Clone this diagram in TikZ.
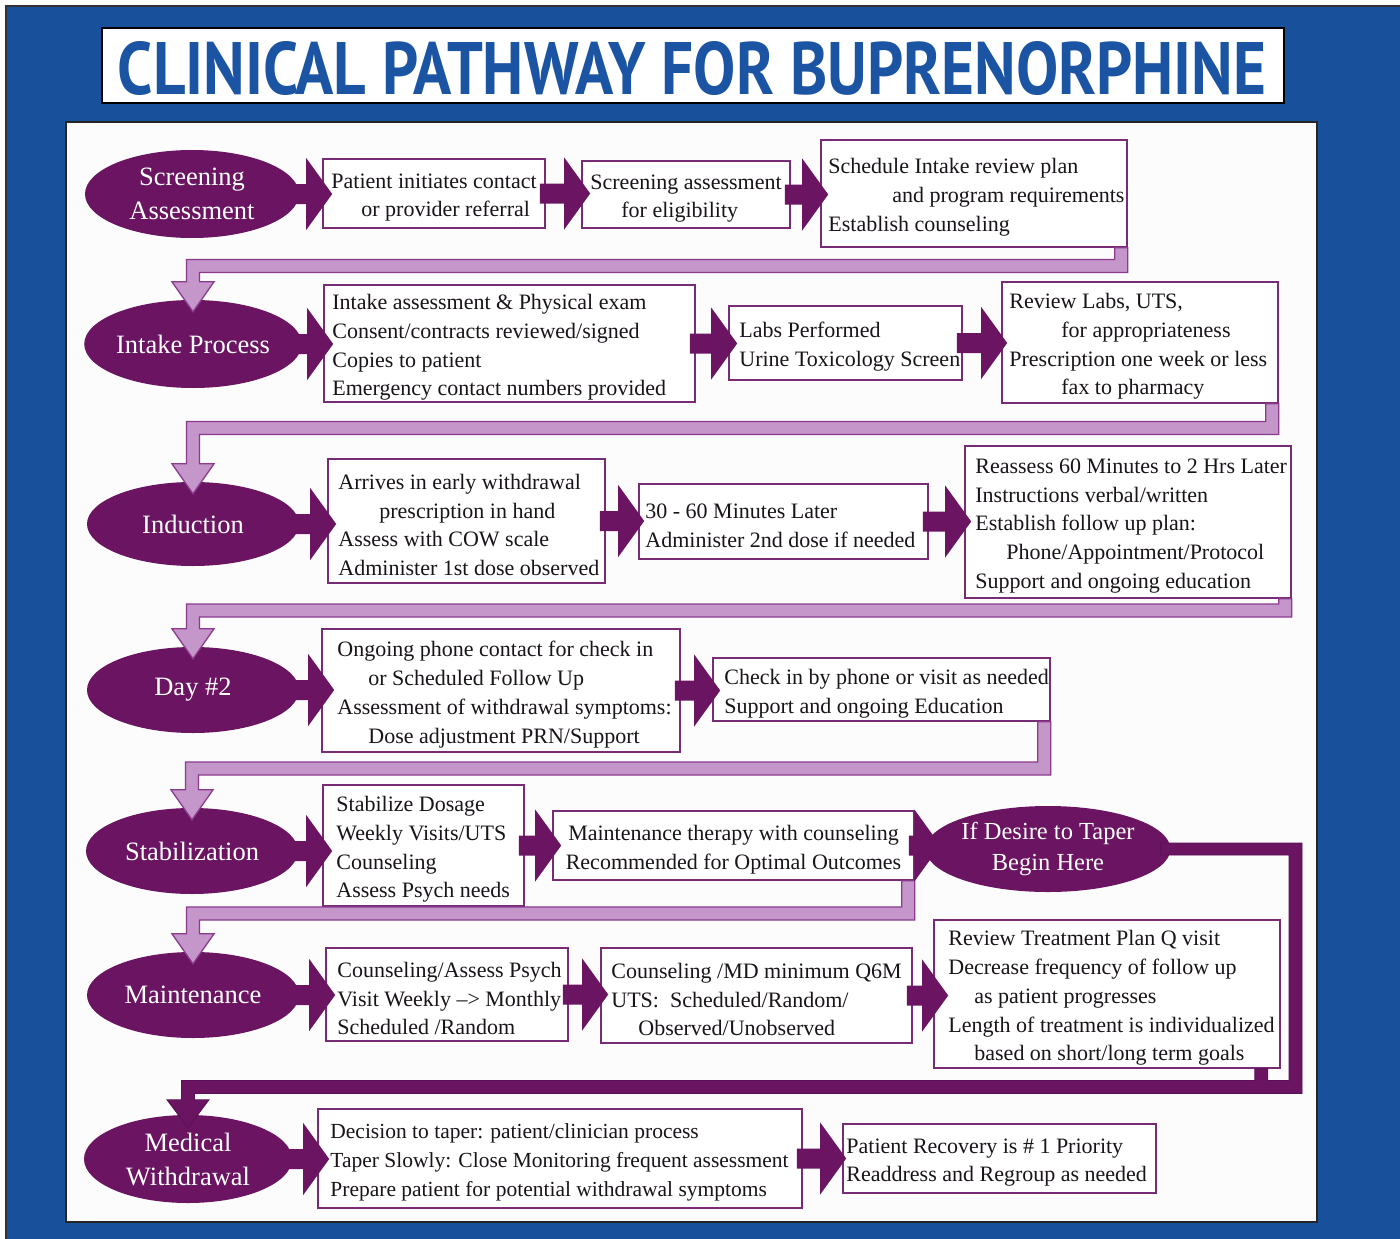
\documentclass[tikz,border=0pt]{standalone}
\usepackage{fontspec}
\setmainfont{Liberation Serif}
\newfontfamily\bodyfont{Liberation Serif}
\newfontfamily\titlefont{PT Sans}
\usetikzlibrary{shapes.geometric,calc}
\definecolor{bgblue}{RGB}{24,80,155}
\definecolor{ttlblue}{RGB}{26,84,162}
\definecolor{dpurple}{RGB}{106,20,98}
\definecolor{lav}{RGB}{196,150,201}
\definecolor{lavline}{RGB}{139,58,142}
\definecolor{boxline}{RGB}{120,44,118}
\definecolor{txtc}{RGB}{25,20,25}

% horizontal block arrow from #1 to #2, tip overlapping #2 by #3
\newcommand{\barrow}[3]{%
  \fill[dpurple] let \p1=(#1.east), \p2=(#2.west) in
  (\x1-6pt,\y1+10pt) -- (\x2+#3-26pt,\y1+10pt) -- (\x2+#3-26pt,\y1+36pt) --
  (\x2+#3,\y1) -- (\x2+#3-26pt,\y1-36pt) -- (\x2+#3-26pt,\y1-10pt) --
  (\x1-6pt,\y1-10pt) -- cycle;}
% lavender connector from box #1 (bottom right) to stage #2 via level #3
\newcommand{\lconn}[3]{%
  \path[band] let \p1=(#1.south east), \p2=(#2.north), \p3=(#3) in
  (\x1-13pt,\y1) -- (\x1,\y1) -- (\x1,\y3-6.5pt) -- (\x2+6.5pt,\y3-6.5pt) --
  (\x2+6.5pt,\y2+18pt) -- (\x2+21pt,\y2+18pt) -- (\x2,\y2-12pt) --
  (\x2-21pt,\y2+18pt) -- (\x2-6.5pt,\y2+18pt) -- (\x2-6.5pt,\y3+6.5pt) --
  (\x1-13pt,\y3+6.5pt) -- cycle;}

\begin{document}
\begin{tikzpicture}[x=1pt,y=-1pt,
  stage/.style={ellipse, fill=dpurple, text=white, inner sep=0pt, align=center,
    font=\bodyfont\fontsize{26.5}{34}\selectfont},
  box/.style={rectangle, draw=boxline, line width=1.6pt, fill=white, inner sep=0pt},
  txt/.style={anchor=west, inner sep=0pt, align=left, text=txtc, yshift=-4pt,
    font=\bodyfont\fontsize{22}{28.8}\selectfont},
  band/.style={fill=lav, draw=lavline, line width=1.3pt, line join=miter},
]
\useasboundingbox (0,0) rectangle (1400,1239);
\fill[white] (0,0) rectangle (1400,1239);
\fill[bgblue] (6,6) rectangle (1400,1239);
\draw[black!80, line width=2pt] (6,1239) -- (6,6) -- (1400,6);

% title
\node[draw=black, line width=1.6pt, fill=white, minimum width=1182pt, minimum height=75pt, inner sep=0pt] (titlebox) at (693,65.5) {};
\node[inner sep=0pt, text=ttlblue] (title) at (692,68.5)
  {\resizebox{1148pt}{53pt}{\titlefont\bfseries CLINICAL PATHWAY FOR BUPRENORPHINE}};

% panel
\node[draw=black!85, line width=1.5pt, fill=white!98!gray, minimum width=1251pt, minimum height=1100pt, inner sep=0pt] (panel) at (691.5,672) {};

% boxes
\node[box, minimum width=222pt, minimum height=69pt] (b1a) at (434,193.5) {};
\node[box, minimum width=208pt, minimum height=67pt] (b1b) at (686,194.5) {};
\node[box, minimum width=306pt, minimum height=107pt] (b1c) at (974,193.5) {};
\node[box, minimum width=371pt, minimum height=117pt] (b2a) at (509.5,343.5) {};
\node[box, minimum width=233pt, minimum height=74pt] (b2b) at (845.5,343) {};
\node[box, minimum width=276pt, minimum height=121pt] (b2c) at (1140,342.5) {};
\node[box, minimum width=277pt, minimum height=124pt] (b3a) at (466.5,521) {};
\node[box, minimum width=289pt, minimum height=75pt] (b3b) at (783.5,521.5) {};
\node[box, minimum width=326pt, minimum height=152pt] (b3c) at (1128,522) {};
\node[box, minimum width=358pt, minimum height=123pt] (b4a) at (501,690.5) {};
\node[box, minimum width=337pt, minimum height=63pt] (b4b) at (881.5,689.5) {};
\node[box, minimum width=201pt, minimum height=121pt] (b5a) at (423.5,845.5) {};
\node[box, minimum width=361pt, minimum height=69pt] (b5b) at (733.5,845.5) {};
\node[box, minimum width=242pt, minimum height=93pt] (b6a) at (447,994.5) {};
\node[box, minimum width=311pt, minimum height=95pt] (b6b) at (756.5,995.5) {};
\node[box, minimum width=346pt, minimum height=148pt] (b6c) at (1107,994) {};
\node[box, minimum width=484pt, minimum height=99pt] (b7a) at (560,1158.5) {};
\node[box, minimum width=313pt, minimum height=69pt] (b7b) at (999.5,1158.5) {};

% box texts
\node[txt] (t1a) at ([xshift=9pt]b1a.west) {Patient initiates contact\\\hspace*{30pt}or provider referral};
\node[txt] (t1b) at ([xshift=9pt]b1b.west) {Screening assessment\\\hspace*{31pt}for eligibility};
\node[txt] (t1c) at ([xshift=8pt]b1c.west) {Schedule Intake review plan\\\hspace*{64pt}and program requirements\\Establish counseling};
\node[txt] (t2a) at ([xshift=9pt]b2a.west) {Intake assessment \& Physical exam\\Consent/contracts reviewed/signed\\Copies to patient\\Emergency contact numbers provided};
\node[txt] (t2b) at ([xshift=11pt]b2b.west) {Labs Performed\\Urine Toxicology Screen};
\node[txt] (t2c) at ([xshift=8pt]b2c.west) {Review Labs, UTS,\\\hspace*{52pt}for appropriateness\\Prescription one week or less\\\hspace*{52pt}fax to pharmacy};
\node[txt] (t3a) at ([xshift=11pt]b3a.west) {Arrives in early withdrawal\\\hspace*{41pt}prescription in hand\\Assess with COW scale\\Administer 1st dose observed};
\node[txt] (t3b) at ([xshift=7pt]b3b.west) {30 - 60 Minutes Later\\Administer 2nd dose if\ needed};
\node[txt] (t3c) at ([xshift=11pt]b3c.west) {Reassess 60 Minutes to 2 Hrs Later\\Instructions verbal/written\\Establish follow up plan:\\\hspace*{31pt}Phone/Appointment/Protocol\\Support and ongoing education};
\node[txt] (t4a) at ([xshift=16pt]b4a.west) {Ongoing phone contact for check in\\\hspace*{31pt}or Scheduled Follow Up\\Assessment of\ withdrawal symptoms:\\\hspace*{31pt}Dose adjustment PRN/Support};
\node[txt] (t4b) at ([xshift=12pt]b4b.west) {Check in by phone or visit as needed\\Support and ongoing Education};
\node[txt] (t5a) at ([xshift=14pt]b5a.west) {Stabilize Dosage\\Weekly Visits/UTS\\Counseling\\Assess Psych needs};
\node[txt, anchor=center, align=center] (t5b) at (b5b.center) {Maintenance therapy with counseling\\Recommended for Optimal Outcomes};
\node[txt] (t6a) at ([xshift=12pt]b6a.west) {Counseling/Assess Psych\\Visit Weekly \textendash> Monthly\\Scheduled /Random};
\node[txt] (t6b) at ([xshift=11pt]b6b.west) {Counseling /MD minimum Q6M\\UTS:\ \ Scheduled/Random/\\\hspace*{27pt}Observed/Unobserved};
\node[txt] (t6c) at ([xshift=15pt]b6c.west) {Review Treatment Plan Q visit\\Decrease frequency of\ follow up\\\hspace*{26pt}as patient progresses\\Length of\ treatment is individualized\\\hspace*{26pt}based on short/long term goals};
\node[txt, font=\bodyfont\fontsize{21.5}{28.8}\selectfont] (t7a) at ([xshift=13pt]b7a.west) {Decision to taper: patient/clinician process\\Taper Slowly: Close Monitoring frequent assessment\\Prepare patient for potential withdrawal symptoms};
\node[txt] (t7b) at ([xshift=4pt]b7b.west) {Patient Recovery is \# 1 Priority\\Readdress and Regroup as needed};

% stages
\node[stage, minimum width=214pt, minimum height=88pt] (s1) at (192,194) {Screening\\Assessment};
\node[stage, minimum width=214pt, minimum height=88pt] (s2) at (193,344) {Intake Process};
\node[stage, minimum width=212pt, minimum height=84pt] (s3) at (193,524) {Induction};
\node[stage, minimum width=212pt, minimum height=86pt] (s4) at (193,690) {Day \#2};
\node[stage, minimum width=212pt, minimum height=86pt] (s5) at (192,851) {Stabilization};
\node[stage, minimum width=212pt, minimum height=86pt] (s6) at (193,995) {Maintenance};
\node[stage, minimum width=208pt, minimum height=88pt] (s7) at (188,1159) {Medical\\Withdrawal};
\node[stage, minimum width=210pt, minimum height=86pt, font=\bodyfont\fontsize{24.5}{31}\selectfont] (taper) at (1048,849) {If Desire to Taper\\Begin Here};

% level coordinates for connectors
\coordinate (h1) at (0,266);
\coordinate (h2) at (0,428);
\coordinate (h3) at (0,610.5);
\coordinate (h4) at (0,768.5);
\coordinate (h5) at (0,913.5);
\coordinate (trc) at (1302,1087);

% lavender connectors
\lconn{b1c}{s2}{h1}
\lconn{b2c}{s3}{h2}
\lconn{b3c}{s4}{h3}
\lconn{b4b}{s5}{h4}
\lconn{b5b}{s6}{h5}

% dark taper connector to medical withdrawal
\path[fill=dpurple, draw=dpurple!85!black, line width=0.8pt, line join=miter]
  let \p1=(taper.east), \p2=(s7.north), \p3=(b6c.south east), \p4=(trc) in
  (\x1-10pt,\y1+6pt) -- (\x4,\y1+6pt) -- (\x4,\y4-6.5pt) -- (\x2+6.5pt,\y4-6.5pt) --
  (\x2+6.5pt,\y2+15pt) -- (\x2+21pt,\y2+15pt) -- (\x2,\y2-13pt) -- (\x2-21pt,\y2+15pt) --
  (\x2-6.5pt,\y2+15pt) -- (\x2-6.5pt,\y4+6.5pt) -- (\x3-26pt,\y4+6.5pt) -- (\x3-26pt,\y3) --
  (\x3-13pt,\y3) -- (\x3-13pt,\y4+6.5pt) -- (\x4-13pt,\y4+6.5pt) -- (\x4-13pt,\y1-6pt) --
  (\x1-10pt,\y1-6pt) -- cycle;

% block arrows
\barrow{s1}{b1a}{10pt}
\barrow{b1a}{b1b}{9pt}
\barrow{b1b}{b1c}{8pt}
\barrow{s2}{b2a}{10pt}
\barrow{b2a}{b2b}{9pt}
\barrow{b2b}{b2c}{6pt}
\barrow{s3}{b3a}{9pt}
\barrow{b3a}{b3b}{6pt}
\barrow{b3b}{b3c}{7pt}
\barrow{s4}{b4a}{13pt}
\barrow{b4a}{b4b}{8pt}
\barrow{s5}{b5a}{10pt}
\barrow{b5a}{b5b}{9pt}
\barrow{b5b}{taper}{15pt}
\barrow{s6}{b6a}{10pt}
\barrow{b6a}{b6b}{8pt}
\barrow{b6b}{b6c}{15pt}
\barrow{s7}{b7a}{12pt}
\barrow{b7a}{b7b}{4pt}
\end{tikzpicture}
\end{document}
